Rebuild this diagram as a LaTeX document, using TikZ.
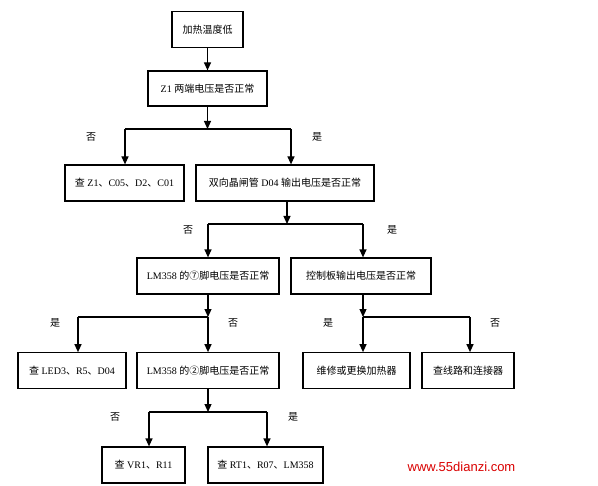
\documentclass[tikz,border=0pt]{standalone}
\usepackage{fontspec}
\setmainfont{Liberation Serif}
\newfontfamily\cjk{Noto Sans CJK SC}
\newfontfamily\wmfont{Liberation Sans}
\usetikzlibrary{arrows.meta}
\newcommand{\zh}[1]{{\cjk #1}}
\tikzset{
  box/.style={draw=black, line width=1.2bp, minimum height=36bp, inner sep=0pt,
    font=\fontsize{10bp}{12bp}\selectfont},
  conn/.style={line width=1.2bp, draw=black},
  arr/.style={conn, -{Triangle[length=8bp,width=7bp]}},
  lbl/.style={font=\cjk\fontsize{10bp}{12bp}\selectfont, inner sep=0pt}
}
\begin{document}
\begin{tikzpicture}[x=1bp,y=-1bp]
\useasboundingbox (0,0) rectangle (598,486);
% boxes
\node[box, minimum width=71bp, minimum height=35.6bp] (b1) at (207.5,29.5) {\zh{加热温度低}};
\node[box, minimum width=119bp, minimum height=35bp] (b2) at (207.5,88.5) {Z1 \zh{两端电压是否正常}};
\node[box, minimum width=119bp] (b3) at (124.5,183) {\zh{查} Z1\zh{、}C05\zh{、}D2\zh{、}C01};
\node[box, minimum width=178bp] (b4) at (285,183) {\zh{双向晶闸管} D04 \zh{输出电压是否正常}};
\node[box, minimum width=142bp] (b5) at (208,276) {LM358 \zh{的⑦脚电压是否正常}};
\node[box, minimum width=140bp] (b6) at (361,276) {\zh{控制板输出电压是否正常}};
\node[box, minimum width=108bp, minimum height=35.5bp] (b7) at (72,370.5) {\zh{查} LED3\zh{、}R5\zh{、}D04};
\node[box, minimum width=142bp, minimum height=35.5bp] (b8) at (208,370.5) {LM358 \zh{的②脚电压是否正常}};
\node[box, minimum width=107bp, minimum height=35.5bp] (b9) at (356.5,370.5) {\zh{维修或更换加热器}};
\node[box, minimum width=92bp, minimum height=35.5bp] (b10) at (468,370.5) {\zh{查线路和连接器}};
\node[box, minimum width=83bp] (b11) at (143.5,465) {\zh{查} VR1\zh{、}R11};
\node[box, minimum width=115bp] (b12) at (265.5,465) {\zh{查} RT1\zh{、}R07\zh{、}LM358};
% junctions
\coordinate (j1) at (207.5,129); \coordinate (j1l) at (125,129); \coordinate (j1r) at (291,129);
\coordinate (j2) at (287,224); \coordinate (j2l) at (208,224); \coordinate (j2r) at (363,224);
\coordinate (j3) at (208,317); \coordinate (j3l) at (78,317);
\coordinate (j4) at (363,317); \coordinate (j4r) at (470,317);
\coordinate (j5) at (208,412); \coordinate (j5l) at (149,412); \coordinate (j5r) at (267,412);
% connectors
\draw[arr] (b1.south) -- (b2.north);
\draw[arr] (b2.south) -- (j1);
\draw[conn] (j1l) -- (j1r);
\draw[arr] (j1l) -- (j1l |- b3.north);
\draw[arr] (j1r) -- (j1r |- b4.north);
\draw[arr] (b4.south -| j2) -- (j2);
\draw[conn] (j2l) -- (j2r);
\draw[arr] (j2l) -- (j2l |- b5.north);
\draw[arr] (j2r) -- (j2r |- b6.north);
\draw[arr] (b5.south -| j3) -- (j3);
\draw[arr] (j3) -- (j3 |- b8.north);
\draw[conn] (j3l) -- (j3);
\draw[arr] (j3l) -- (j3l |- b7.north);
\draw[arr] (b6.south -| j4) -- (j4);
\draw[arr] (j4) -- (j4 |- b9.north);
\draw[conn] (j4) -- (j4r);
\draw[arr] (j4r) -- (j4r |- b10.north);
\draw[arr] (b8.south -| j5) -- (j5);
\draw[conn] (j5l) -- (j5r);
\draw[arr] (j5l) -- (j5l |- b11.north);
\draw[arr] (j5r) -- (j5r |- b12.north);
% labels
\node[lbl] (l1) at (91,137) {否};
\node[lbl] (l2) at (317,137) {是};
\node[lbl] (l3) at (188,230) {否};
\node[lbl] (l4) at (392,230) {是};
\node[lbl] (l5) at (55,323) {是};
\node[lbl] (l6) at (233,323) {否};
\node[lbl] (l7) at (328,323) {是};
\node[lbl] (l8) at (495,323) {否};
\node[lbl] (l9) at (115,417) {否};
\node[lbl] (l10) at (293,417) {是};
% watermark
\node[inner sep=0pt, text=red!85!black, font=\wmfont\fontsize{13bp}{15bp}\selectfont] (wm) at (461.5,467) {www.55dianzi.com};
\end{tikzpicture}
\end{document}
